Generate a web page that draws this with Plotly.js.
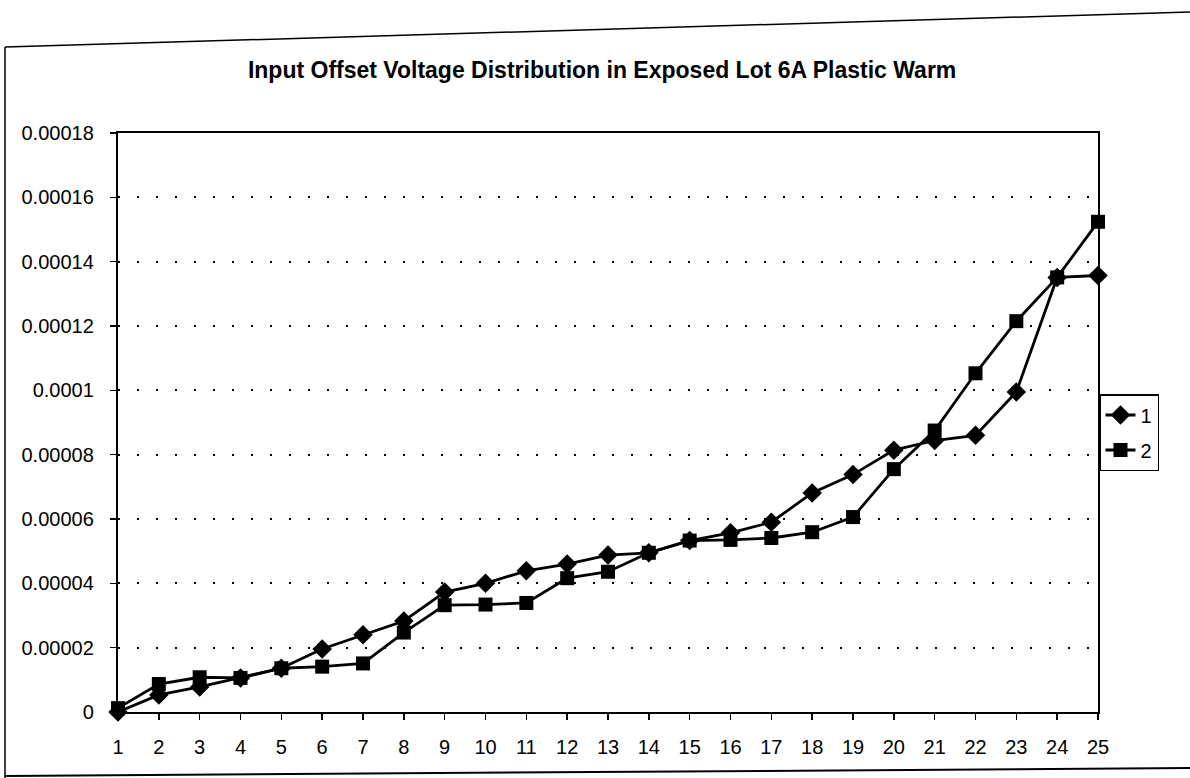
<!DOCTYPE html>
<html>
<head>
<meta charset="utf-8">
<script src="https://cdn.plot.ly/plotly-3.0.1.min.js"></script>
<style>
html,body{margin:0;padding:0;background:#fff;}
#chart{width:1190px;height:778px;}
</style>
</head>
<body>
<div id="chart"></div>
<script>
// Category labels (sample index)
const categories = [1,2,3,4,5,6,7,8,9,10,11,12,13,14,15,16,17,18,19,20,21,22,23,24,25];

// Series "1" (diamonds)
const series1 = [0, 0.0000053, 0.0000078, 0.0000106, 0.0000136, 0.0000196, 0.000024, 0.0000283,
  0.0000373, 0.00004, 0.0000439, 0.000046, 0.0000488, 0.0000495, 0.0000533, 0.0000557, 0.000059,
  0.0000681, 0.0000738, 0.0000814, 0.0000844, 0.000086, 0.0000995, 0.0001351, 0.0001357];

// Series "2" (squares)
const series2 = [0.0000012, 0.0000087, 0.0000108, 0.0000106, 0.0000136, 0.0000141, 0.0000151, 0.0000247,
  0.0000332, 0.0000334, 0.0000339, 0.0000416, 0.0000436, 0.0000495, 0.0000533, 0.0000535, 0.0000541,
  0.0000559, 0.0000606, 0.0000755, 0.0000875, 0.0001053, 0.0001215, 0.0001351, 0.0001524];

const seriesNames = ["1", "2"];

// Y tick labels
const yTickVals = [0, 0.00002, 0.00004, 0.00006, 0.00008, 0.0001, 0.00012, 0.00014, 0.00016, 0.00018];
const yTickText = ["0", "0.00002", "0.00004", "0.00006", "0.00008", "0.0001", "0.00012", "0.00014", "0.00016", "0.00018"];

const titleText = "Input Offset Voltage Distribution in Exposed Lot 6A Plastic Warm";

const FONT = "Liberation Sans, Arial, Helvetica, sans-serif";

const W = 1190, H = 778;
const mL = 118, mR = 92, mT = 133, mB = 66;
const pw = W - mL - mR, ph = H - mT - mB;
function px(x){ return (x - mL) / pw; }
function py(y){ return (H - mB - y) / ph; }

const traces = [
  {
    x: categories, y: series1, name: seriesNames[0], type: "scatter", mode: "lines+markers",
    line: {color: "#000", width: 2.8},
    marker: {symbol: "diamond", size: 15, color: "#000"},
    cliponaxis: false, legendgroup: "a"
  },
  {
    x: categories, y: series2, name: seriesNames[1], type: "scatter", mode: "lines+markers",
    line: {color: "#000", width: 2.8},
    marker: {symbol: "square", size: 14, color: "#000"},
    cliponaxis: false, legendgroup: "b"
  }
];

const layout = {
  width: W, height: H,
  paper_bgcolor: "#fff", plot_bgcolor: "#fff",
  margin: {l: mL, r: mR, t: mT, b: mB, pad: 0},
  font: {family: FONT, color: "#000", size: 20},
  title: {
    text: "<b>" + titleText + "</b>",
    font: {family: FONT, size: 23, color: "#000"},
    x: 0.494, xanchor: "center", xref: "paper",
    y: 1 - 70 / H, yanchor: "middle", yref: "container"
  },
  showlegend: true,
  legend: {
    x: px(1099), y: py(394), xanchor: "left", yanchor: "top",
    bordercolor: "#000", borderwidth: 1.5, bgcolor: "#fff",
    font: {family: FONT, size: 20, color: "#000"},
    traceorder: "grouped", tracegroupgap: 6,
    itemwidth: 30
  },
  xaxis: {
    range: [1, 25], tickvals: categories, ticktext: categories.map(String),
    showgrid: false, zeroline: false,
    showline: true, linecolor: "#000", linewidth: 2.2, mirror: true,
    ticks: "outside", ticklen: 6, tickcolor: "#000", tickwidth: 1.5,
    ticklabelstandoff: 10,
    tickfont: {family: FONT, size: 20, color: "#000"},
    fixedrange: true
  },
  yaxis: {
    range: [0, 0.00018], tickvals: yTickVals, ticktext: yTickText,
    showgrid: true, gridcolor: "#000", gridwidth: 2, griddash: "2px,17px",
    zeroline: false,
    showline: true, linecolor: "#000", linewidth: 2.2, mirror: true,
    ticks: "outside", ticklen: 6, tickcolor: "#000", tickwidth: 1.5,
    ticklabelstandoff: 12,
    tickfont: {family: FONT, size: 20, color: "#000"},
    fixedrange: true
  },
  shapes: [
    // outer chart frame (scanned page, slightly skewed)
    {type: "line", xref: "paper", yref: "paper", x0: px(5), y0: py(47), x1: px(1190), y1: py(12), line: {color: "#000", width: 1.5}},
    {type: "line", xref: "paper", yref: "paper", x0: px(5), y0: py(47), x1: px(5), y1: py(778), line: {color: "#000", width: 1.5}},
    {type: "line", xref: "paper", yref: "paper", x0: px(5), y0: py(776), x1: px(1190), y1: py(768), line: {color: "#000", width: 2}}
  ]
};

Plotly.newPlot("chart", traces, layout, {displayModeBar: false, staticPlot: true});
</script>
</body>
</html>
